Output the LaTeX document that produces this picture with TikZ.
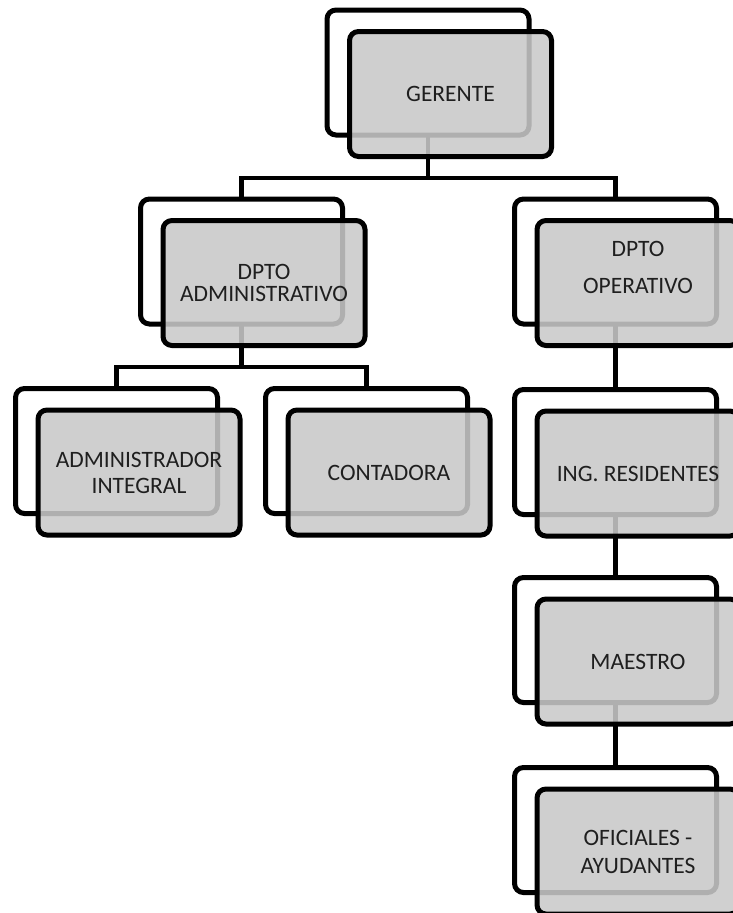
\documentclass[tikz,border=0pt]{standalone}
\usepackage{fontspec}
\setmainfont{Carlito}
\usetikzlibrary{calc}
\definecolor{boxgray}{RGB}{201,201,201}
\begin{document}
\begin{tikzpicture}[x=1pt,y=-1pt,
 backbox/.style={draw=black,line width=5pt,fill=white,rounded corners=9pt,minimum width=202pt,minimum height=125pt,inner sep=0pt,outer sep=0pt},
 frontbox/.style={draw=black,line width=5pt,fill=boxgray,fill opacity=0.875,draw opacity=1,rounded corners=9pt,minimum width=202pt,minimum height=125pt,inner sep=0pt,outer sep=0pt},
 conn/.style={line width=4.5pt,draw=black},
 lbl/.style={align=center,font=\fontsize{23.5}{26}\selectfont,text=black!88,inner sep=0pt}]
\useasboundingbox (0,0) rectangle (733,913);
\clip (0,0) rectangle (733,913);
% back boxes
\node[backbox] (gb) at (428,72.5) {};
\node[backbox] (ab) at (241.5,261.5) {};
\node[backbox] (opb) at (615.5,261.5) {};
\node[backbox] (aib) at (116.5,451) {};
\node[backbox] (cb) at (366.5,451) {};
\node[backbox] (ib) at (615.5,452) {};
\node[backbox] (mb) at (615.5,640) {};
\node[backbox] (ofcb) at (615.5,830) {};
% connectors
\draw[conn] (gb.south) -- ++(0,43) -| (ab.north);
\draw[conn] (gb.south) -- ++(0,43) -| (opb.north);
\draw[conn] (ab.south) -- ++(0,43) -| (aib.north);
\draw[conn] (ab.south) -- ++(0,43) -| (cb.north);
\draw[conn] (opb.south) -- (ib.north);
\draw[conn] (ib.south) -- (mb.north);
\draw[conn] (mb.south) -- (ofcb.north);
% front boxes
\node[frontbox] (gf) at ($(gb)+(22.5,21.5)$) {};
\node[frontbox] (af) at ($(ab)+(22.5,21.5)$) {};
\node[frontbox] (opf) at ($(opb)+(22.5,21.5)$) {};
\node[frontbox] (aif) at ($(aib)+(22.5,21.5)$) {};
\node[frontbox] (cf) at ($(cb)+(22.5,21.5)$) {};
\node[frontbox] (inf) at ($(ib)+(22.5,21.5)$) {};
\node[frontbox] (mf) at ($(mb)+(22.5,21.5)$) {};
\node[frontbox] (ofcf) at ($(ofcb)+(22.5,21.5)$) {};
% labels
\node[lbl] (gt) at (gf) {GERENTE};
\node[lbl,font=\fontsize{23.5}{22}\selectfont] (at) at (af) {DPTO\\ADMINISTRATIVO};
\node[lbl,font=\fontsize{23.5}{37}\selectfont] (opt) at ($(opf)+(0,-16)$) {DPTO\\OPERATIVO};
\node[lbl,font=\fontsize{23.5}{26}\selectfont] (ait) at (aif) {ADMINISTRADOR\\INTEGRAL};
\node[lbl] (ct) at (cf) {CONTADORA};
\node[lbl] (it) at (inf) {ING. RESIDENTES};
\node[lbl] (mt) at (mf) {MAESTRO};
\node[lbl,font=\fontsize{23.5}{28}\selectfont] (oft) at (ofcf) {OFICIALES -\\AYUDANTES};
\end{tikzpicture}
\end{document}
